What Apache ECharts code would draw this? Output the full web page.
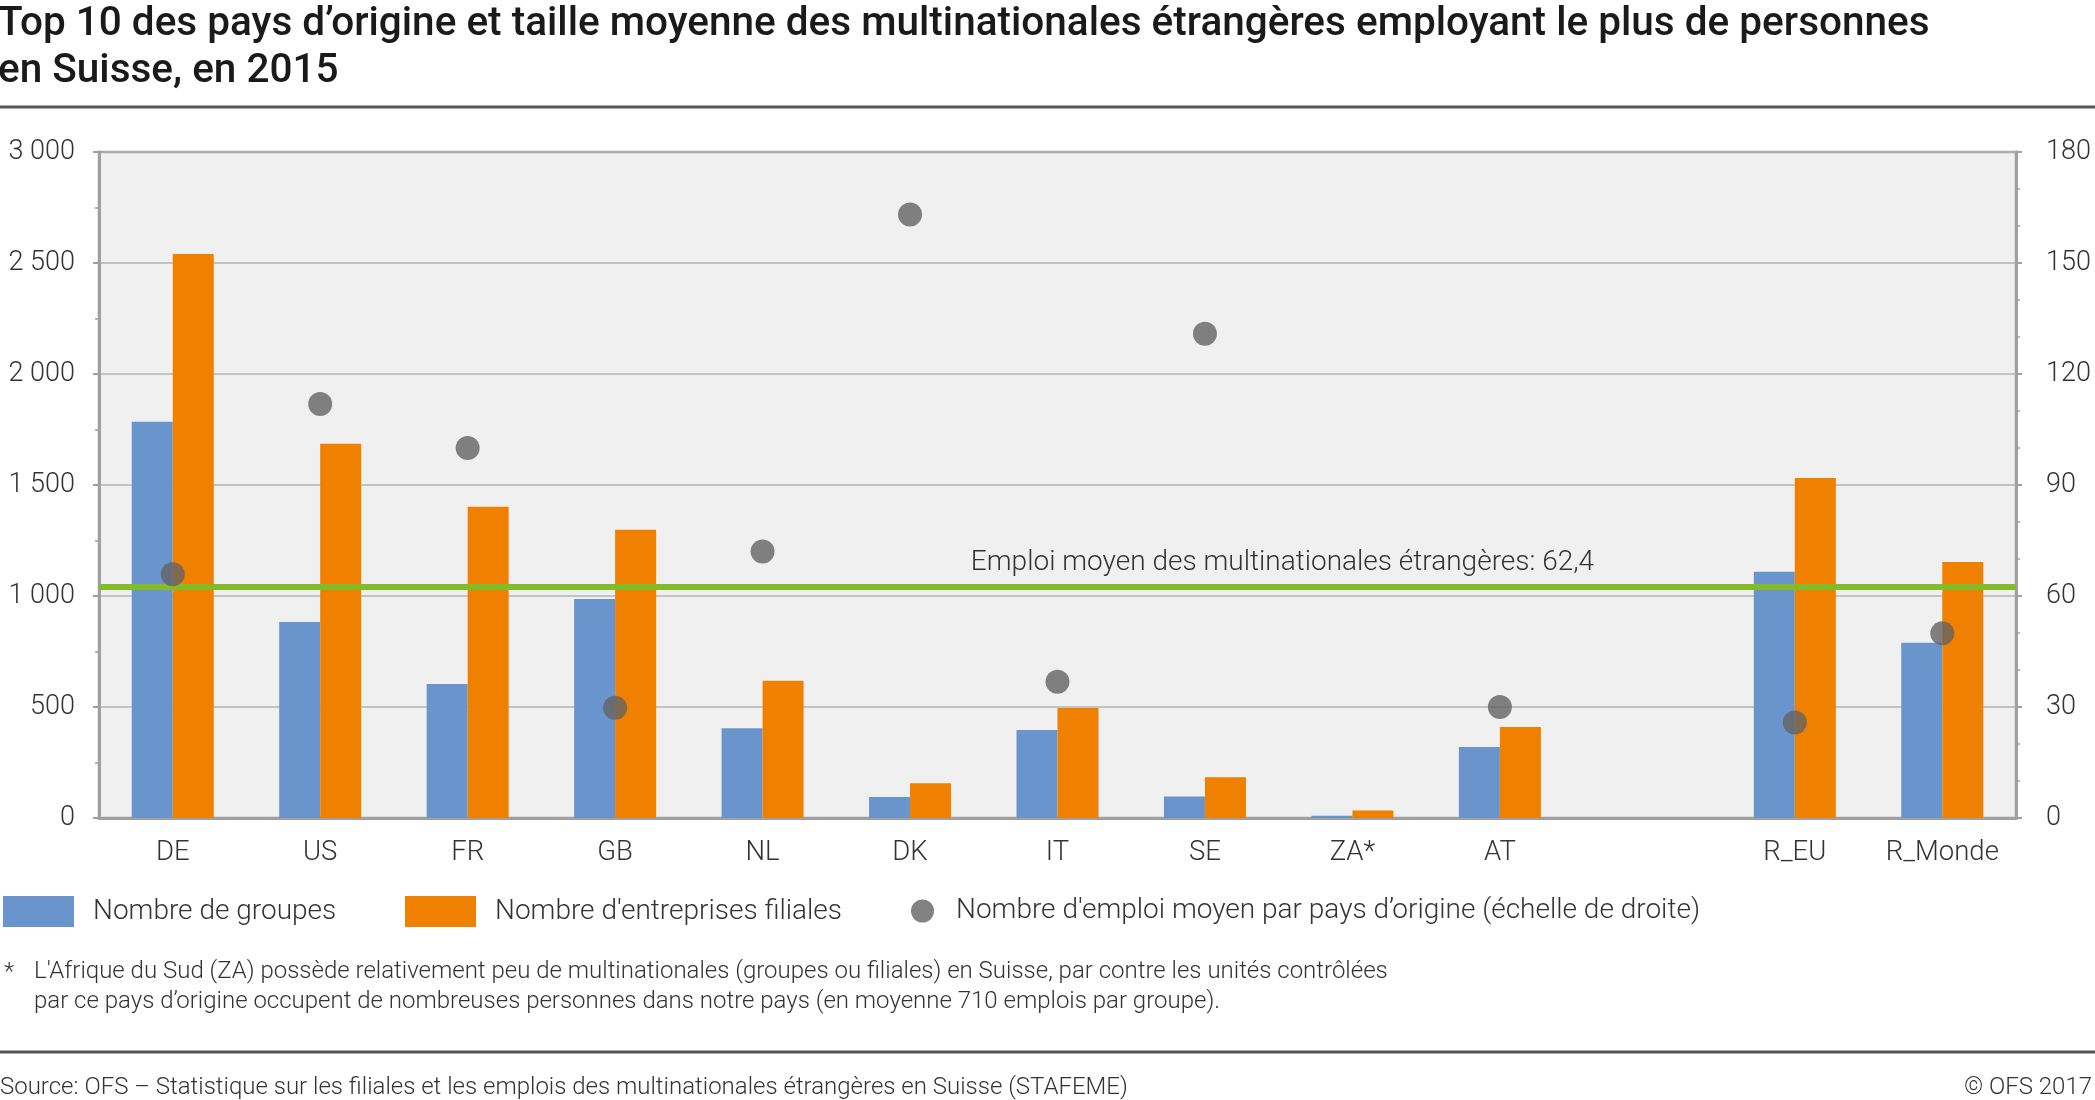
<!DOCTYPE html>
<html>
<head>
<meta charset="utf-8">
<script src="https://cdn.jsdelivr.net/npm/echarts@6/dist/echarts.min.js"></script>
<style>
html,body{margin:0;padding:0;background:#fff;}
#chart{width:2095px;height:1100px;}
</style>
</head>
<body>
<div id="chart"></div>
<script>
const categories = ['DE','US','FR','GB','NL','DK','IT','SE','ZA*','AT','','R_EU','R_Monde'];
const groupes = [1785, 883, 604, 986, 404, 95, 396, 97, 10, 320, null, 1109, 789];
const filiales = [2541, 1686, 1402, 1298, 618, 157, 495, 183, 34, 410, null, 1531, 1153];
const emploiMoyen = [65.9, 111.9, 100, 29.8, 72, 163.1, 36.8, 130.9, null, 30, null, 25.8, 49.9];
const emploiMoyenGlobal = 62.4;
const leftTicks = {min: 0, max: 3000, interval: 500};
const rightTicks = {min: 0, max: 180, interval: 30};

const titleText = 'Top 10 des pays d\u2019origine et taille moyenne des multinationales étrangères employant le plus de personnes\nen Suisse, en 2015';
const seriesNames = ['Nombre de groupes', "Nombre d'entreprises filiales", 'Nombre d\'emploi moyen par pays d\u2019origine (échelle de droite)'];
const footnote1 = 'L\'Afrique du Sud (ZA) possède relativement peu de multinationales (groupes ou filiales) en Suisse, par contre les unités contrôlées';
const footnote2 = 'par ce pays d\u2019origine occupent de nombreuses personnes dans notre pays (en moyenne 710 emplois par groupe).';
const sourceText = 'Source: OFS \u2013 Statistique sur les filiales et les emplois des multinationales étrangères en Suisse (STAFEME)';
const copyrightText = '\u00a9 OFS 2017';
const meanLabel = 'Emploi moyen des multinationales étrangères: 62,4';

const FONT = 'Roboto';
const TXT = '#333333';
const AXIS = '#a0a0a0';

function thousands(v){ return String(v).replace(/\B(?=(\d{3})+(?!\d))/g, ' '); }

const chart = echarts.init(document.getElementById('chart'), null, {renderer: 'canvas'});
const legendText = {fontFamily: FONT, fontWeight: 300, fontSize: 28, color: TXT, padding: [0,0,0,14]};

chart.setOption({
  animation: false,
  backgroundColor: '#ffffff',
  textStyle: {fontFamily: FONT},
  title: {
    text: titleText,
    left: -2, top: 1,
    padding: 0,
    textStyle: {fontFamily: FONT, fontWeight: 500, fontSize: 40.5, lineHeight: 47, color: '#1a1a1a'}
  },
  grid: {
    left: 99, right: 79, top: 152, bottom: 282,
    show: true, backgroundColor: '#f0f0f0', borderColor: AXIS, borderWidth: 2.5,
    containLabel: false
  },
  legend: [
    {data: [{name: seriesNames[0], icon: 'rect'}], left: 3, top: 896, itemWidth: 71, itemHeight: 31, padding: 0, selectedMode: false, textStyle: legendText},
    {data: [{name: seriesNames[1], icon: 'rect'}], left: 405, top: 896, itemWidth: 71, itemHeight: 31, padding: 0, selectedMode: false, textStyle: legendText},
    {data: [{name: seriesNames[2], icon: 'circle'}], left: 911, top: 897, itemWidth: 23, itemHeight: 23, padding: 0, selectedMode: false, textStyle: Object.assign({}, legendText, {padding: [0,0,0,17]})}
  ],
  xAxis: {
    type: 'category',
    data: categories,
    axisLine: {lineStyle: {color: AXIS, width: 3}},
    axisTick: {show: false},
    axisLabel: {fontFamily: FONT, fontWeight: 300, fontSize: 27.5, color: TXT, margin: 21, interval: 0}
  },
  yAxis: [
    {
      type: 'value', position: 'left',
      min: leftTicks.min, max: leftTicks.max, interval: leftTicks.interval,
      axisLine: {show: true, lineStyle: {color: AXIS, width: 3}},
      axisTick: {show: true, length: 6, lineStyle: {color: AXIS, width: 2}},
      minorTick: {show: true, splitNumber: 2, length: 4, lineStyle: {color: AXIS, width: 1.5}},
      splitLine: {show: true, lineStyle: {color: '#b4b4b4', width: 1.5}},
      axisLabel: {fontFamily: FONT, fontWeight: 300, fontSize: 27, color: TXT, margin: 24, formatter: thousands}
    },
    {
      type: 'value', position: 'right',
      min: rightTicks.min, max: rightTicks.max, interval: rightTicks.interval,
      axisLine: {show: true, lineStyle: {color: AXIS, width: 3}},
      axisTick: {show: true, length: 6, lineStyle: {color: AXIS, width: 2}},
      minorTick: {show: true, splitNumber: 3, length: 4, lineStyle: {color: AXIS, width: 1.5}},
      splitLine: {show: false},
      axisLabel: {fontFamily: FONT, fontWeight: 300, fontSize: 27, color: TXT, margin: 30}
    }
  ],
  series: [
    {
      name: seriesNames[0], type: 'bar', data: groupes, yAxisIndex: 0,
      barWidth: 41, barGap: '0%',
      itemStyle: {color: '#6a94cc'}
    },
    {
      name: seriesNames[1], type: 'bar', data: filiales, yAxisIndex: 0,
      barWidth: 41, barGap: '0%',
      itemStyle: {color: '#f08000'}
    },
    {
      name: seriesNames[2], type: 'scatter', data: emploiMoyen, yAxisIndex: 1,
      symbol: 'circle', symbolSize: 24, z: 5,
      itemStyle: {color: '#636363'},
      markLine: {
        silent: true, symbol: ['none','none'],
        lineStyle: {color: '#84bb29', width: 6, type: 'solid'},
        label: {
          show: true, position: 'insideMiddleTop', distance: 10, offset: [225, 0],
          formatter: meanLabel,
          fontFamily: FONT, fontWeight: 300, fontSize: 28, color: TXT
        },
        data: [{yAxis: emploiMoyenGlobal}]
      }
    }
  ],
  graphic: [
    {type: 'line', shape: {x1: 0, y1: 107, x2: 2095, y2: 107}, style: {stroke: '#555555', lineWidth: 3}},
    {type: 'text', left: 4, top: 961, style: {text: '*', font: '300 24px Roboto', fill: TXT}},
    {type: 'text', left: 34, top: 960, style: {text: footnote1, font: '300 24px Roboto', fill: TXT}},
    {type: 'text', left: 34, top: 990, style: {text: footnote2, font: '300 24px Roboto', fill: TXT}},
    {type: 'line', shape: {x1: 0, y1: 1052, x2: 2095, y2: 1052}, style: {stroke: '#555555', lineWidth: 3}},
    {type: 'text', left: 0, top: 1076, style: {text: sourceText, font: '300 24px Roboto', fill: TXT}},
    {type: 'text', right: 3, top: 1076, style: {text: copyrightText, font: '300 24px Roboto', fill: TXT}}
  ]
});
</script>
</body>
</html>
